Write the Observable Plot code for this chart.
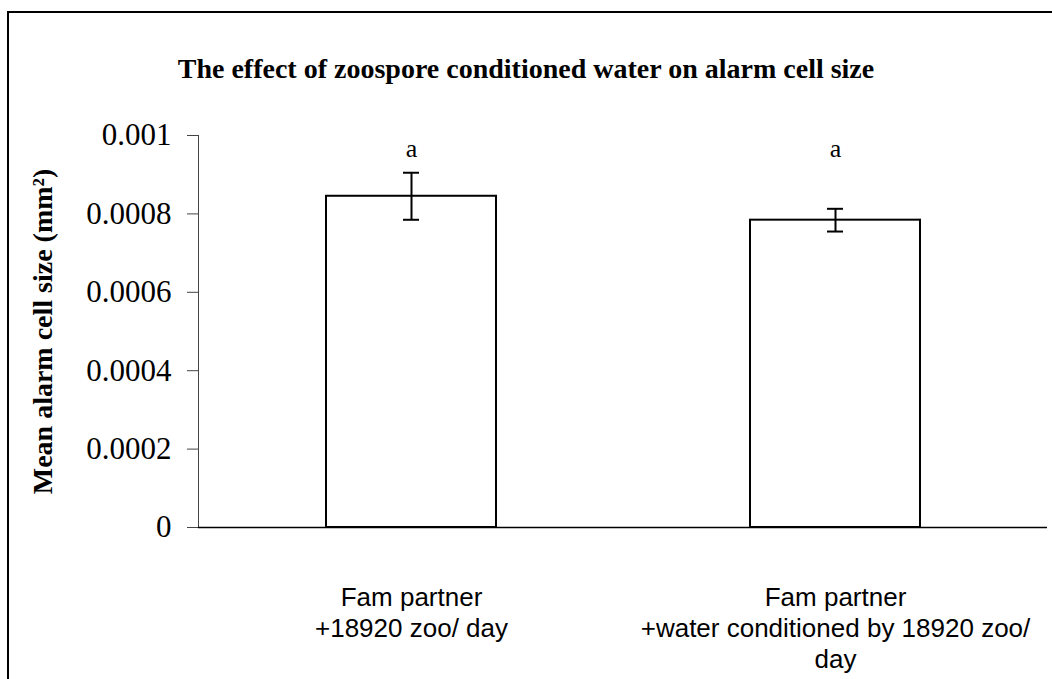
<!DOCTYPE html>
<html>
<head>
<meta charset="utf-8">
<script src="https://cdn.jsdelivr.net/npm/d3@7"></script>
<script src="https://cdn.jsdelivr.net/npm/@observablehq/plot@0.6"></script>
<style>
  html, body { margin: 0; padding: 0; background: #fff; overflow: hidden; }
  #wrap { position: relative; width: 1052px; height: 679px; overflow: hidden; }
  #frame { position: absolute; left: 7px; top: 11px; width: 1200px; height: 800px;
           border-left: 2px solid #000; border-top: 2px solid #000; box-sizing: border-box; }
  #title { position: absolute; left: 0; top: 55px; width: 1052px; text-align: center;
           font-family: "Liberation Serif", "Times New Roman", serif; font-weight: bold;
           font-size: 28px; line-height: 28px; color: #000; box-sizing: border-box; }
  #chart { position: absolute; left: 0; top: 0; }
</style>
</head>
<body>
<div id="wrap">
  <div id="frame"></div>
  <div id="chart"></div>
  <div id="title">The effect of zoospore conditioned water on alarm cell size</div>
</div>
<script>
// ---- data ----
const groups = ["Fam partner +18920 zoo/ day", "Fam partner +water conditioned by 18920 zoo/ day"];
const groupLabels = ["Fam partner\n+18920 zoo/ day", "Fam partner\n+water conditioned by 18920 zoo/\nday"];
const means = [0.000845, 0.000784];
const errors = [0.00006, 0.000029];
const letters = ["a", "a"];
const yTicks = [0, 0.0002, 0.0004, 0.0006, 0.0008, 0.001];
const yLabel = "Mean alarm cell size (mm²)";

const data = groups.map((g, i) => ({
  group: g, label: groupLabels[i], mean: means[i],
  lo: means[i] - errors[i], hi: means[i] + errors[i], letter: letters[i]
}));
const labelOf = new Map(data.map(d => [d.group, d.label]));

const serif = "Liberation Serif, Times New Roman, serif";
const sans = "Liberation Sans, Arial, sans-serif";

const chart = Plot.plot({
  width: 1052,
  height: 679,
  marginLeft: 198,
  marginRight: 5,
  marginTop: 135,
  marginBottom: 152,
  style: { background: "transparent", color: "#000" },
  x: { domain: groups, paddingInner: 0.6, paddingOuter: 0.3, label: null },
  y: { domain: [0, 0.001], label: null },
  marks: [
    Plot.axisY({ ticks: yTicks, tickFormat: d => String(d), tickSize: 11, tickPadding: 16,
                 fontSize: 31, fontFamily: serif, stroke: "#444", label: null }),
    Plot.axisX({ tickSize: 0, tickPadding: 56, tickFormat: d => labelOf.get(d),
                 fontSize: 26, fontFamily: sans, lineHeight: 1.2, label: null }),
    Plot.frame({ anchor: "left", stroke: "#444", strokeWidth: 1 }),
    Plot.barY(data, { x: "group", y: "mean", fill: "white", stroke: "#000", strokeWidth: 2 }),
    Plot.ruleY([0], { stroke: "#000", strokeWidth: 1.5 }),
    Plot.ruleX(data, { x: "group", y1: "lo", y2: "hi", stroke: "#000", strokeWidth: 2 }),
    Plot.tickY(data, { x: "group", y: "hi", insetLeft: 77, insetRight: 77, stroke: "#000", strokeWidth: 2 }),
    Plot.tickY(data, { x: "group", y: "lo", insetLeft: 77, insetRight: 77, stroke: "#000", strokeWidth: 2 }),
    Plot.text(data, { x: "group", text: "letter", frameAnchor: "top", dy: 21, lineAnchor: "bottom",
                      fontSize: 26, fontFamily: serif, fill: "#000" }),
    Plot.text([yLabel], { text: d => d, frameAnchor: "left", rotate: -90, dx: -155,
                          textAnchor: "middle", lineAnchor: "middle",
                          fontSize: 28, fontWeight: "bold", fontFamily: serif, fill: "#000" })
  ]
});
document.getElementById("chart").appendChild(chart);
</script>
</body>
</html>
